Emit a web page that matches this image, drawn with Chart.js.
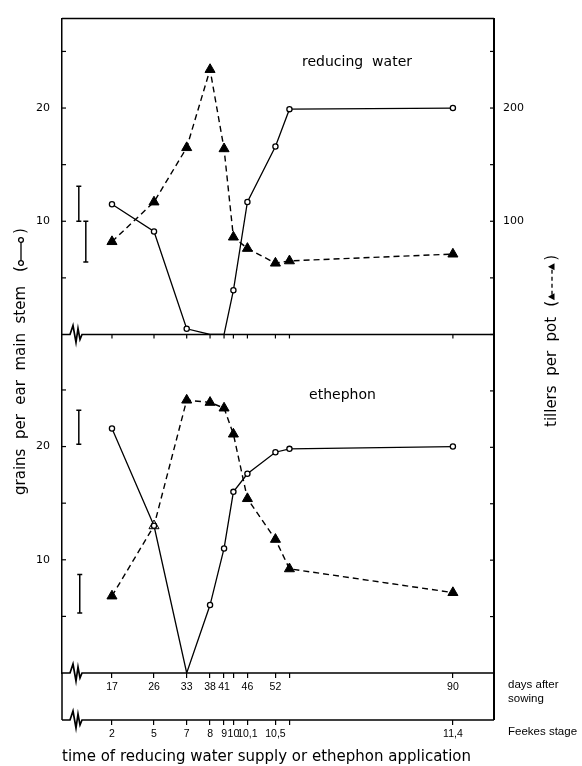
<!DOCTYPE html>
<html>
<head>
<meta charset="utf-8">
<script src="https://cdn.jsdelivr.net/npm/chart.js@4.4.1/dist/chart.umd.min.js"></script>
<style>
  html, body { margin: 0; padding: 0; background: #fff; }
  #wrap { width: 582px; height: 766px; }
</style>
</head>
<body>
<div id="wrap"><canvas id="chart" width="582" height="766"></canvas></div>
<script>
// sampling dates (days after sowing) and their labels
const days = [17, 26, 33, 38, 41, 43, 46, 52, 55, 90];
const dayLabels = ['17', '26', '33', '38', '41', '', '46', '52', '', '90'];
const feekesLabels = ['2', '5', '7', '8', '9', '10', '10,1', '10,5', '', '11,4'];

// reducing water
const waterGrains = [11.5, 9.1, 0.5, 0, 0, 3.9, 11.7, 16.6, 19.9, 20.0];
const waterTillers = [82, 117, 165, 234, 164, 86, 76, 63, 65, 71];

// ethephon
const ethephonGrains = [21.6, 13.0, 0, 6.0, 11.0, 16.0, 17.6, 19.5, 19.8, 20.0];
const ethephonTillers = [68, 130, 241, 239, 234, 211, 154, 118, 92, 71];

// LSD bars (grain units)
const lsdWaterDays = [9.9, 11.4];
const lsdWaterLow = [10.0, 6.4];
const lsdWaterHigh = [13.1, 10.0];
const lsdEthephonDays = [9.9, 10.1];
const lsdEthephonLow = [20.2, 5.3];
const lsdEthephonHigh = [23.2, 8.7];

const panelTitles = ['reducing  water', 'ethephon'];

const X_MIN = 6.3, X_MAX = 98.8;
const TOP_MAX = 27.9, BOT_MAX = 29.9;

const FONT = "'DejaVu Sans', sans-serif";
const NARROW = "'Liberation Sans Narrow', 'Liberation Sans', sans-serif";

const pts = (xs, ys) => xs.map((d, i) => ({ x: d, y: ys[i] }));

const grainStyle = {
  borderColor: '#000', borderWidth: 1.3, tension: 0,
  pointStyle: 'circle',
  pointRadius: c => (c.raw && c.raw.y === 0 ? 0 : 2.6),
  pointBackgroundColor: '#fff', pointBorderColor: '#000', pointBorderWidth: 1.3
};
const tillerStyle = {
  borderColor: '#000', borderWidth: 1.4, borderDash: [6, 4], tension: 0,
  pointStyle: 'triangle', pointRadius: 5.8,
  pointBackgroundColor: '#000', pointBorderColor: '#000', pointBorderWidth: 1
};

function lsdSets(xs, lo, hi, axis) {
  return xs.map((d, i) => ({
    data: [{ x: d, y: lo[i] }, { x: d, y: hi[i] }],
    yAxisID: axis, borderColor: '#000', borderWidth: 1.5,
    pointStyle: 'line', pointRadius: 2.5, pointBorderWidth: 1.5, pointBorderColor: '#000'
  }));
}

const datasets = [
  { label: 'grains water', data: pts(days, waterGrains), yAxisID: 'yTop', ...grainStyle },
  { label: 'tillers water', data: pts(days, waterTillers), yAxisID: 'y2Top', ...tillerStyle },
  { label: 'grains ethephon', data: pts(days, ethephonGrains), yAxisID: 'yBot', ...grainStyle },
  { label: 'tillers ethephon', data: pts(days, ethephonTillers), yAxisID: 'y2Bot', ...tillerStyle,
    pointBackgroundColor: ethephonTillers.map((v, i) => (i === 1 ? '#fff' : '#000')) },
  ...lsdSets(lsdWaterDays, lsdWaterLow, lsdWaterHigh, 'yTop'),
  ...lsdSets(lsdEthephonDays, lsdEthephonLow, lsdEthephonHigh, 'yBot')
];

const dayTicks = s => { s.ticks = days.map(v => ({ value: v })); };

function xAxis(labels, h, extra) {
  return Object.assign({
    type: 'linear', position: 'bottom', min: X_MIN, max: X_MAX,
    afterBuildTicks: dayTicks,
    afterFit: s => { s.height = h; },
    grid: { display: true, drawOnChartArea: false, drawTicks: true, tickLength: 5, color: '#000', lineWidth: 1.2 },
    border: { display: false },
    ticks: {
      autoSkip: false, maxRotation: 0, minRotation: 0, padding: 3, color: '#000',
      font: { family: NARROW, size: 10.5 },
      callback: (v, i) => labels[i]
    }
  }, extra || {});
}

function yAxis(pos, max, step, w, pad) {
  return {
    type: 'linear', position: pos, stack: pos, stackWeight: pos === 'left' ? max : max / 10,
    min: 0, max: max,
    afterFit: s => { s.width = w; },
    grid: { display: false, drawTicks: false },
    border: { display: true, color: '#000', width: pos === 'left' ? 1.5 : 2 },
    ticks: {
      stepSize: step, includeBounds: false, padding: pad, color: '#000',
      font: { family: FONT, size: 11 },
      callback: v => (v > 0 && v % (step * 2) === 0 ? String(v) : '')
    }
  };
}

function breakLine(ctx, x0, x1, y) {
  const b = x0 + 8;
  ctx.beginPath();
  ctx.moveTo(x0, y);
  ctx.lineTo(b, y);
  ctx.lineTo(b + 3, y - 9);
  ctx.lineTo(b + 6, y + 8);
  ctx.lineTo(b + 8, y - 6);
  ctx.lineTo(b + 10, y + 5);
  ctx.lineTo(b + 12, y);
  ctx.lineTo(x1, y);
  ctx.stroke();
}

const frame = {
  id: 'frame',
  afterDraw(chart) {
    const { ctx, chartArea: a, scales } = chart;
    const { x, xF, yTop, yBot, y2Top, y2Bot } = scales;
    const seg = (x0, y0, x1, y1) => { ctx.beginPath(); ctx.moveTo(x0, y0); ctx.lineTo(x1, y1); ctx.stroke(); };
    ctx.save();
    ctx.strokeStyle = '#000';
    ctx.fillStyle = '#000';
    ctx.lineWidth = 1.5;
    seg(a.left, a.top, a.right, a.top);

    const yMid = yTop.getPixelForValue(0);
    ctx.lineWidth = 1.7;
    breakLine(ctx, a.left, a.right, yMid);
    breakLine(ctx, a.left, a.right, yBot.getPixelForValue(0));
    breakLine(ctx, a.left, a.right, xF.top);
    ctx.lineWidth = 1.5;
    seg(a.left, a.bottom, a.left, xF.top);
    ctx.lineWidth = 2;
    seg(a.right, a.bottom, a.right, xF.top);

    ctx.lineWidth = 1.2;
    x.ticks.forEach(t => { const px = x.getPixelForValue(t.value); seg(px, yMid, px, yMid + 4); });
    [yTop, yBot].forEach(s => s.ticks.forEach(t => {
      if (t.value > 0) { const py = s.getPixelForValue(t.value); seg(a.left, py, a.left + 4, py); }
    }));
    [y2Top, y2Bot].forEach(s => s.ticks.forEach(t => {
      if (t.value > 0) { const py = s.getPixelForValue(t.value); seg(a.right - 4, py, a.right, py); }
    }));

    // panel titles
    ctx.font = '14px ' + FONT;
    ctx.textBaseline = 'middle';
    ctx.textAlign = 'left';
    ctx.fillText(panelTitles[0], x.getPixelForValue(57.7), yTop.getPixelForValue(24.0));
    ctx.fillText(panelTitles[1], x.getPixelForValue(59.2), yBot.getPixelForValue(24.5));

    // x axis captions on the right
    ctx.font = "11.5px 'Liberation Sans', sans-serif";
    ctx.fillText('days after', a.right + 14, 685);
    ctx.fillText('sowing', a.right + 14, 699);
    ctx.fillText('Feekes stage', a.right + 14, 732);

    // left y title with key
    ctx.save();
    ctx.translate(21, 495);
    ctx.rotate(-Math.PI / 2);
    ctx.font = '15px ' + FONT;
    const t1 = 'grains  per  ear  main  stem';
    ctx.fillText(t1, 0, 0);
    let k = ctx.measureText(t1).width + 14;
    ctx.fillText('(', k, 0);
    ctx.lineWidth = 1.3;
    seg(k + 10, 0, k + 31, 0);
    ctx.fillStyle = '#fff';
    [k + 9, k + 32].forEach(cx => { ctx.beginPath(); ctx.arc(cx, 0, 2.4, 0, Math.PI * 2); ctx.fill(); ctx.stroke(); });
    ctx.fillStyle = '#000';
    ctx.fillText(')', k + 38, 0);
    ctx.restore();

    // right y title with key
    ctx.save();
    ctx.translate(552, 427);
    ctx.rotate(-Math.PI / 2);
    ctx.font = '15px ' + FONT;
    const t2 = 'tillers  per  pot';
    ctx.fillText(t2, 0, 0);
    k = ctx.measureText(t2).width + 10;
    ctx.fillText('(', k, 0);
    ctx.lineWidth = 1.3;
    ctx.setLineDash([4, 3]);
    seg(k + 12, 0, k + 38, 0);
    ctx.setLineDash([]);
    [k + 10, k + 40].forEach(cx => {
      ctx.beginPath(); ctx.moveTo(cx, -4); ctx.lineTo(cx + 3.5, 2.5); ctx.lineTo(cx - 3.5, 2.5); ctx.closePath(); ctx.fill();
    });
    ctx.fillText(')', k + 46, 0);
    ctx.restore();

    ctx.restore();
  }
};

new Chart(document.getElementById('chart').getContext('2d'), {
  type: 'line',
  data: { datasets },
  options: {
    responsive: false,
    animation: false,
    events: [],
    devicePixelRatio: 1,
    layout: { padding: { top: 13, left: 0, right: 0, bottom: 0 } },
    plugins: { legend: { display: false }, tooltip: { enabled: false } },
    scales: {
      x: xAxis(dayLabels, 47),
      xF: xAxis(feekesLabels, 46, {
        title: {
          display: true, text: 'time of reducing water supply or ethephon application',
          align: 'start', padding: 0, color: '#000', font: { family: FONT, size: 15 }
        }
      }),
      yBot: yAxis('left', BOT_MAX, 5, 62, 12),
      yTop: yAxis('left', TOP_MAX, 5, 62, 12),
      y2Top: yAxis('right', TOP_MAX * 10, 50, 88, 9),
      y2Bot: yAxis('right', BOT_MAX * 10, 50, 88, 9)
    }
  },
  plugins: [frame]
});
</script>
</body>
</html>
